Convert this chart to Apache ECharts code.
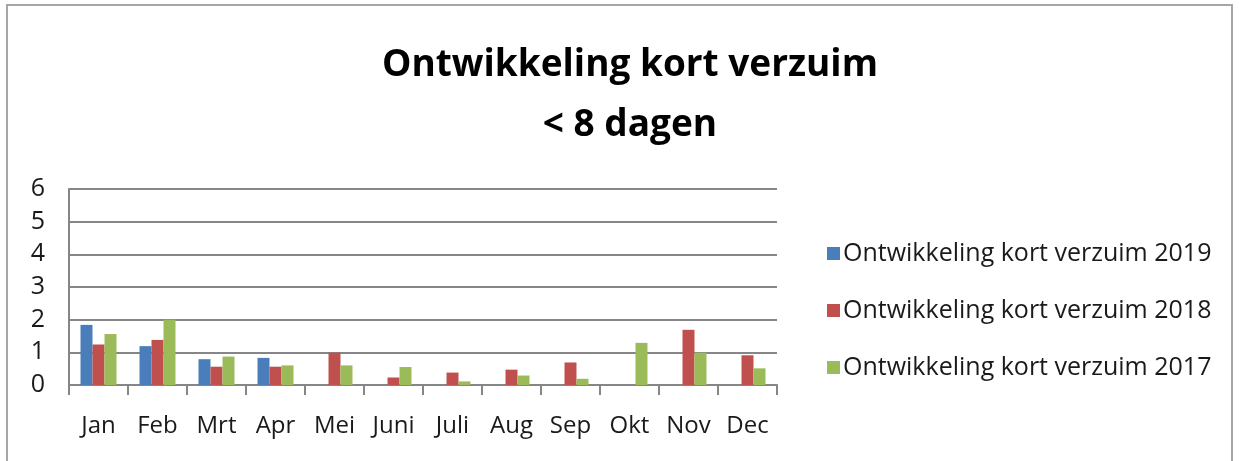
<!DOCTYPE html>
<html><head><meta charset="utf-8">
<script src="https://cdn.jsdelivr.net/npm/echarts@6/dist/echarts.min.js"></script>
<style>html,body{margin:0;padding:0;background:#fff}#c{width:1239px;height:461px}</style>
</head><body><div id="c"></div>
<script>
const categories = ['Jan','Feb','Mrt','Apr','Mei','Juni','Juli','Aug','Sep','Okt','Nov','Dec'];
const seriesNames = ['Ontwikkeling kort verzuim 2019','Ontwikkeling kort verzuim 2018','Ontwikkeling kort verzuim 2017'];
const v2019 = [1.84,1.19,0.79,0.83,null,null,null,null,null,null,null,null];
const v2018 = [1.24,1.38,0.56,0.56,0.99,0.23,0.38,0.47,0.69,null,1.69,0.91];
const v2017 = [1.56,2.0,0.87,0.60,0.60,0.55,0.11,0.29,0.19,1.29,0.99,0.51];
const yTicks = [0,1,2,3,4,5,6];
const colors = ['#4a7ebb','#c0504d','#9bbb59'];
const font = '"Open Sans", "Noto Sans", sans-serif';

const chart = echarts.init(document.getElementById('c'));
chart.setOption({
  animation:false,
  graphic:[{type:'rect',shape:{x:7,y:5,width:1225,height:470},style:{fill:'none',stroke:'#a6a6a6',lineWidth:2}}],
  title:{text:'Ontwikkeling kort verzuim\n< 8 dagen',left:625,top:30,textAlign:'center',
    textStyle:{fontFamily:font,fontWeight:'bold',fontSize:37,lineHeight:60,color:'#000'}},
  legend:{orient:'vertical',left:822,top:236,itemGap:32,itemWidth:13,itemHeight:13,icon:'rect',
    data:seriesNames,textStyle:{fontFamily:font,fontSize:25,color:'#1a1a1a',padding:[0,0,0,-2]}},
  grid:{left:69,top:189,width:708,height:196},
  xAxis:{type:'category',data:categories,
    axisLine:{lineStyle:{color:'#868686',width:2}},
    axisTick:{show:true,length:10,lineStyle:{color:'#868686',width:2}},
    axisLabel:{fontFamily:font,fontSize:24,color:'#1a1a1a',margin:29}},
  yAxis:{type:'value',min:0,max:6,interval:1,
    axisLine:{show:true,lineStyle:{color:'#868686',width:2}},
    axisTick:{show:false},
    splitLine:{lineStyle:{color:'#868686',width:2}},
    axisLabel:{fontFamily:font,fontSize:25,color:'#1a1a1a',margin:24,
      formatter:v=>yTicks.includes(v)?String(v):''}},
  series:[
    {name:seriesNames[0],type:'bar',data:v2019,itemStyle:{color:colors[0]},barGap:'0%',barCategoryGap:'39%'},
    {name:seriesNames[1],type:'bar',data:v2018,itemStyle:{color:colors[1]},barGap:'0%',barCategoryGap:'39%'},
    {name:seriesNames[2],type:'bar',data:v2017,itemStyle:{color:colors[2]},barGap:'0%',barCategoryGap:'39%'}
  ]
});
</script></body></html>
